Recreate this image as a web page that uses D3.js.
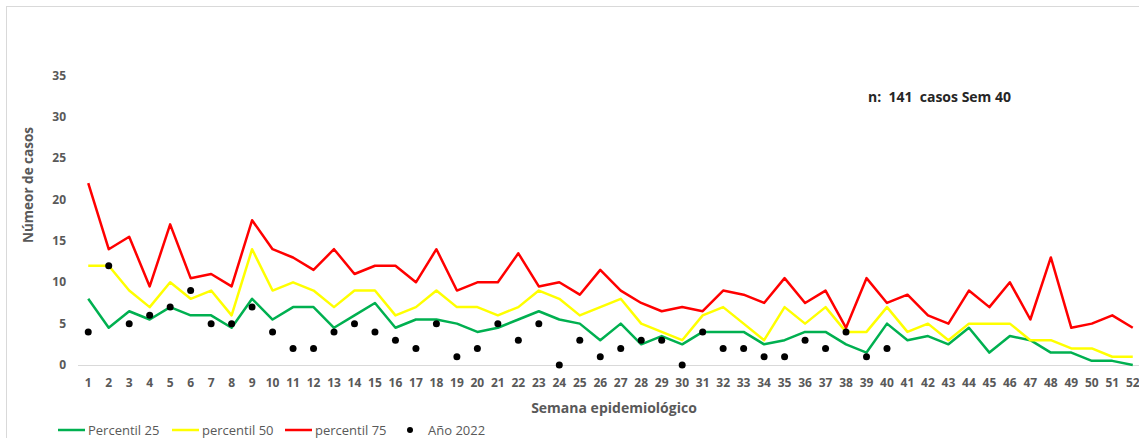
<!DOCTYPE html>
<html>
<head>
  <meta charset="utf-8">
  <title>Percentiles por semana epidemiológica</title>
  <script src="https://cdn.jsdelivr.net/npm/d3@7"></script>
  <style>
    body { margin: 0; background: #fff; }
    text { font-family: "Open Sans", "Noto Sans", sans-serif; }
  </style>
</head>
<body>
  <svg id="chart"></svg>
  <script>
    // weeks 1..52
    var semanas = d3.range(1, 53);
    var p25 = [8, 4.5, 6.5, 5.5, 7, 6, 6, 4.5, 8, 5.5, 7, 7, 4.5, 6, 7.5, 4.5, 5.5, 5.5, 5, 4,
               4.5, 5.5, 6.5, 5.5, 5, 3, 5, 2.5, 3.5, 2.5, 4, 4, 4, 2.5, 3, 4, 4, 2.5, 1.5, 5,
               3, 3.5, 2.5, 4.5, 1.5, 3.5, 3, 1.5, 1.5, 0.5, 0.5, 0];
    var p50 = [12, 12, 9, 7, 10, 8, 9, 6, 14, 9, 10, 9, 7, 9, 9, 6, 7, 9, 7, 7,
               6, 7, 9, 8, 6, 7, 8, 5, 4, 3, 6, 7, 5, 3, 7, 5, 7, 4, 4, 7,
               4, 5, 3, 5, 5, 5, 3, 3, 2, 2, 1, 1];
    var p75 = [22, 14, 15.5, 9.5, 17, 10.5, 11, 9.5, 17.5, 14, 13, 11.5, 14, 11, 12, 12, 10, 14, 9, 10,
               10, 13.5, 9.5, 10, 8.5, 11.5, 9, 7.5, 6.5, 7, 6.5, 9, 8.5, 7.5, 10.5, 7.5, 9, 4.5, 10.5, 7.5,
               8.5, 6, 5, 9, 7, 10, 5.5, 13, 4.5, 5, 6, 4.5];
    // año 2022, up to week 40
    var anio2022 = [4, 12, 5, 6, 7, 9, 5, 5, 7, 4, 2, 2, 4, 5, 4, 3, 2, 5, 1, 2,
                    5, 3, 5, 0, 3, 1, 2, 3, 3, 0, 4, 2, 2, 1, 1, 3, 2, 4, 1, 2];
    var yTicks = [0, 5, 10, 15, 20, 25, 30, 35];

    var series = [
      { name: "Percentil 25", values: p25, color: "#00b050" },
      { name: "percentil 50", values: p50, color: "#ffff00" },
      { name: "percentil 75", values: p75, color: "#ff0000" }
    ];

    var width = 1139, height = 438;
    var svg = d3.select("#chart").attr("width", width).attr("height", height);

    // outer chart frame
    svg.append("rect")
      .attr("x", 6.5).attr("y", 6.5)
      .attr("width", 1150).attr("height", 450)
      .attr("fill", "#fff").attr("stroke", "#d9d9d9");

    var x = d3.scaleBand().domain(semanas).range([78, 1143]);
    var y = d3.scaleLinear().domain([0, 35]).range([365, 75.5]);
    var cx = function(w) { return x(w) + x.bandwidth() / 2; };

    // baseline
    svg.append("line")
      .attr("x1", 78).attr("x2", 1143)
      .attr("y1", y(0) + 0.5).attr("y2", y(0) + 0.5)
      .attr("stroke", "#d9d9d9");

    // y ticks
    svg.append("g").selectAll("text").data(yTicks).join("text")
      .attr("x", 66).attr("y", function(d) { return y(d); })
      .attr("dy", "0.35em")
      .attr("text-anchor", "end")
      .attr("font-size", 12).attr("font-weight", "bold")
      .attr("fill", "#595959")
      .text(function(d) { return d; });

    // x ticks
    svg.append("g").selectAll("text").data(semanas).join("text")
      .attr("x", function(d) { return cx(d); }).attr("y", 383)
      .attr("dy", "0.35em")
      .attr("text-anchor", "middle")
      .attr("font-size", 12).attr("font-weight", "bold")
      .attr("fill", "#595959")
      .text(function(d) { return d; });

    // axis titles
    svg.append("text")
      .attr("transform", "translate(28,185) rotate(-90)")
      .attr("text-anchor", "middle").attr("dy", "0.35em")
      .attr("font-size", 13.5).attr("font-weight", "bold").attr("fill", "#595959")
      .text("Númeor de casos");
    svg.append("text")
      .attr("x", 614).attr("y", 408).attr("dy", "0.35em")
      .attr("text-anchor", "middle")
      .attr("font-size", 14).attr("font-weight", "bold").attr("fill", "#595959")
      .text("Semana epidemiológico");

    // lines
    var line = d3.line()
      .x(function(d, i) { return cx(semanas[i]); })
      .y(function(d) { return y(d); });
    svg.append("g").selectAll("path").data(series).join("path")
      .attr("d", function(s) { return line(s.values); })
      .attr("fill", "none")
      .attr("stroke", function(s) { return s.color; })
      .attr("stroke-width", 2.5)
      .attr("stroke-linejoin", "round");

    // 2022 points
    svg.append("g").selectAll("circle").data(anio2022).join("circle")
      .attr("cx", function(d, i) { return cx(semanas[i]); })
      .attr("cy", function(d) { return y(d); })
      .attr("r", 3.5)
      .attr("fill", "#000");

    // annotation
    svg.append("text")
      .attr("x", 868).attr("y", 97).attr("dy", "0.35em")
      .attr("font-size", 14).attr("font-weight", "bold").attr("fill", "#262626")
      .attr("xml:space", "preserve")
      .text("n:  141  casos Sem 40");

    // legend
    var legendItems = [
      { name: "Percentil 25", color: "#00b050", x: 58, type: "line" },
      { name: "percentil 50", color: "#ffff00", x: 172, type: "line" },
      { name: "percentil 75", color: "#ff0000", x: 285, type: "line" },
      { name: "Año 2022", color: "#000", x: 404, type: "dot" }
    ];
    var lg = svg.append("g").selectAll("g").data(legendItems).join("g")
      .attr("transform", function(d) { return "translate(" + d.x + ",430)"; });
    lg.filter(function(d) { return d.type === "line"; }).append("line")
      .attr("x1", 0).attr("x2", 27).attr("y1", 0).attr("y2", 0)
      .attr("stroke", function(d) { return d.color; })
      .attr("stroke-width", 2.5);
    lg.filter(function(d) { return d.type === "dot"; }).append("circle")
      .attr("cx", 6).attr("cy", 0).attr("r", 3)
      .attr("fill", "#000");
    lg.append("text")
      .attr("x", function(d) { return d.type === "dot" ? 24 : 30; })
      .attr("dy", "0.35em")
      .attr("font-size", 13).attr("fill", "#595959")
      .text(function(d) { return d.name; });
  </script>
</body>
</html>
